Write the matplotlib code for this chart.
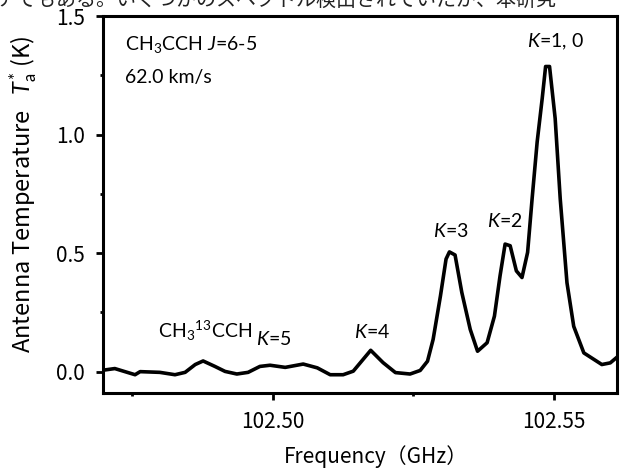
import numpy as np
import matplotlib
matplotlib.use("Agg")
import matplotlib.pyplot as plt
from matplotlib.ticker import MultipleLocator, FormatStrFormatter

# spectrum (GHz, K)
freq = [102.4698, 102.4719, 102.4755, 102.4764, 102.4799, 102.4826, 102.4844,
        102.4862, 102.4876, 102.4897, 102.4915, 102.4936, 102.4956, 102.4977,
        102.4995, 102.5022, 102.5054, 102.5079, 102.5102, 102.5125, 102.5143,
        102.5174, 102.5196, 102.5218, 102.5244, 102.5262, 102.5275, 102.5285,
        102.5298, 102.5308, 102.5314, 102.5324, 102.5336, 102.5351, 102.5364,
        102.5381, 102.5394, 102.5404, 102.5413, 102.5422, 102.5433, 102.5443,
        102.5453, 102.5461, 102.5470, 102.5479, 102.5485, 102.5492, 102.5502,
        102.5511, 102.5523, 102.5535, 102.5553, 102.5585, 102.5600, 102.5614]
temp = [0.006, 0.013, -0.013, 0.000, -0.003, -0.013, -0.003,
        0.030, 0.045, 0.022, 0.001, -0.010, -0.003, 0.022,
        0.027, 0.018, 0.032, 0.016, -0.013, -0.013, 0.002,
        0.090, 0.038, -0.004, -0.010, 0.005, 0.044, 0.136,
        0.319, 0.475, 0.505, 0.492, 0.334, 0.178, 0.086,
        0.122, 0.234, 0.404, 0.538, 0.531, 0.425, 0.397,
        0.503, 0.729, 0.969, 1.153, 1.287, 1.287, 1.068,
        0.729, 0.375, 0.191, 0.079, 0.030, 0.037, 0.065]

# line labels: text, freq, temperature (baseline)
line_labels = ["$K$=1, 0", "$K$=2", "$K$=3", "$K$=4", "$K$=5", "CH$_3$$^{13}$CCH"]
label_freq = [102.5503, 102.5413, 102.5316, 102.5177, 102.5001, 102.4880]
label_temp = [1.369, 0.610, 0.568, 0.144, 0.114, 0.144]

plt.rcParams['mathtext.fontset'] = 'custom'
plt.rcParams['mathtext.rm'] = 'Lato'
plt.rcParams['mathtext.it'] = 'Lato:italic'
plt.rcParams['mathtext.bf'] = 'Lato:bold'

jp = ['Noto Sans CJK JP', 'DejaVu Sans']

fig = plt.figure(figsize=(6.22, 4.68), dpi=100)
ax = fig.add_axes([0.1656, 0.1603, 0.8264, 0.8055])

# clipped line of body text above the figure
fig.text(-0.005, 0.988, "アでもある。いくつかのスペクトル検出されていたが、本研究",
         family=jp, fontsize=14.4, va='baseline', ha='left', color='#222222')

ax.plot(freq, temp, color='black', lw=2.6, solid_joinstyle='round')

ax.set_xlim(102.4698, 102.5612)
ax.set_ylim(-0.09, 1.5)

ax.xaxis.set_major_locator(MultipleLocator(0.05))
ax.xaxis.set_minor_locator(MultipleLocator(0.025))
ax.xaxis.set_major_formatter(FormatStrFormatter('%.2f'))
ax.yaxis.set_major_locator(MultipleLocator(0.5))
ax.yaxis.set_minor_locator(MultipleLocator(0.25))
ax.yaxis.set_major_formatter(FormatStrFormatter('%.1f'))

for s in ax.spines.values():
    s.set_linewidth(2.2)
ax.tick_params(which='major', direction='out', length=5, width=2, pad=8, labelsize=15)
ax.tick_params(which='minor', direction='out', length=2.5, width=2)
for lab in ax.get_xticklabels() + ax.get_yticklabels():
    lab.set_family(jp)

ax.set_xlabel("Frequency（GHz）", family=jp, fontsize=15)
ax.xaxis.set_label_coords(0.531, -0.170)
ax.xaxis.label.set_va('center')
ax.set_ylabel("Antenna Temperature   $T_\\mathrm{a}^{*}$ (K)", family=jp, fontsize=17)
ax.yaxis.set_label_coords(-0.154, 0.528)
ax.yaxis.label.set_va('center')

ax.text(0.043, 0.910, "CH$_3$CCH $J$=6-5", transform=ax.transAxes,
        family='Lato', fontsize=14, va='baseline')
ax.text(0.043, 0.822, "62.0 km/s", transform=ax.transAxes,
        family='Lato', fontsize=14, va='baseline')

for t, f, y in zip(line_labels, label_freq, label_temp):
    ax.text(f, y, t, family='Lato', fontsize=14, ha='center', va='baseline')

fig.savefig("out.png", dpi=100)
